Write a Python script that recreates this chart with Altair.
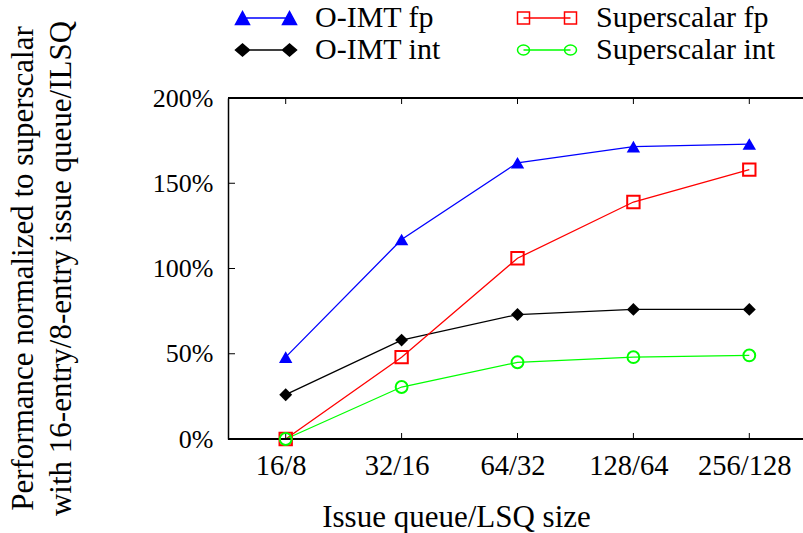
import altair as alt
import pandas as pd

# ---- data ----
sizes = ["16/8", "32/16", "64/32", "128/64", "256/128"]
oimt_fp = [48, 117, 162, 171.5, 173]
oimt_int = [26, 58, 73, 76, 76]
ss_fp = [0, 48, 106, 139, 158]
ss_int = [0, 30.5, 45, 48, 49]
series_names = ["O-IMT fp", "O-IMT int", "Superscalar fp", "Superscalar int"]
y_ticks = [0, 50, 100, 150, 200]

# ---- styles (same order as series_names) ----
colors = ["#0000ff", "#000000", "#ff0000", "#00ff00"]
fills = ["#0000ff", "#000000", "transparent", "transparent"]
shapes = ["triangle-up", "diamond", "square", "circle"]
sizes_pt = [180, 140, 100, 130]
FONT = "Liberation Serif"
W, H = 575, 341

rows = []
for name, vals in zip(series_names, [oimt_fp, oimt_int, ss_fp, ss_int]):
    for s, v in zip(sizes, vals):
        rows.append({"size": s, "series": name, "value": v})
df = pd.DataFrame(rows)

# legend symbol paths: a sample line with a marker at each end
SYM = 625
R = SYM ** 0.5 / 2


def u(px):
    return round(px / R, 3)


L = u(23.5)


def line_path():
    return f"M{-L},0L{L},0"


def tri(cx):
    hw, hh = u(7), u(6.5)
    return f"M{cx},{-hh}L{round(cx - hw, 3)},{hh}L{round(cx + hw, 3)},{hh}Z"


def dia(cx):
    hw, hh = u(7), u(6)
    return f"M{round(cx - hw, 3)},0L{cx},{-hh}L{round(cx + hw, 3)},0L{cx},{hh}Z"


def sq(cx):
    h = u(6)
    return f"M{round(cx - h, 3)},{-h}L{round(cx + h, 3)},{-h}L{round(cx + h, 3)},{h}L{round(cx - h, 3)},{h}Z"


def circ(cx):
    rx, ry = u(6), u(5)
    return (f"M{round(cx - rx, 3)},0A{rx},{ry},0,1,0,{round(cx + rx, 3)},0"
            f"A{rx},{ry},0,1,0,{round(cx - rx, 3)},0Z")


legend_paths = [
    line_path() + tri(-L) + tri(L),
    line_path() + dia(-L) + dia(L),
    line_path() + sq(-L) + sq(L),
    line_path() + circ(-L) + circ(L),
]

x_enc = alt.X(
    "size:N", sort=sizes,
    scale=alt.Scale(type="point", range=[57.7, 521.3], padding=0),
    axis=alt.Axis(title="Issue queue/LSQ size", labelAngle=0, labelFont=FONT,
                  labelFontSize=28.5, labelColor="black", labelPadding=12, labelOffset=-5,
                  ticks=False, domain=False, grid=False,
                  titleFont=FONT, titleFontSize=31, titleFontWeight="normal",
                  titleColor="black", titleX=228, titleY=87, titleAlign="center",
                  titleBaseline="alphabetic"),
)
y_enc = alt.Y(
    "value:Q",
    scale=alt.Scale(domain=[0, 200], nice=False),
    axis=alt.Axis(values=y_ticks, labelExpr="datum.value + '%'", labelFont=FONT,
                  labelFontSize=26, labelColor="black", labelPadding=15,
                  ticks=False, domain=True, domainColor="black", domainWidth=1.5,
                  grid=False,
                  title=["Performance normalized to superscalar",
                         "with 16-entry/8-entry issue queue/ILSQ"],
                  titleFont=FONT, titleFontSize=31, titleFontWeight="normal",
                  titleColor="black", titleAngle=270, titleX=-196, titleY=170,
                  titleAlign="center", titleBaseline="alphabetic", titleLineHeight=38),
)

color = alt.Color("series:N", scale=alt.Scale(domain=series_names, range=colors), legend=None)
shape = alt.Shape("series:N", scale=alt.Scale(domain=series_names, range=shapes), legend=None)
size = alt.Size("series:N", scale=alt.Scale(domain=series_names, range=sizes_pt), legend=None)

base = alt.Chart(df).encode(x=x_enc, y=y_enc)

lines = base.mark_line(strokeWidth=1.3).encode(color=color)

pts_filled = base.transform_filter(
    alt.FieldOneOfPredicate(field="series", oneOf=["O-IMT fp", "O-IMT int"])
).mark_point(filled=True, opacity=1).encode(color=color, shape=shape, size=size)

pts_open = base.transform_filter(
    alt.FieldOneOfPredicate(field="series", oneOf=["Superscalar fp", "Superscalar int"])
).mark_point(filled=False, opacity=1, strokeWidth=2).encode(color=color, shape=shape, size=size)

# frame and inward tick marks
tick_df = pd.DataFrame({"value": y_ticks})
size_df = pd.DataFrame({"size": sizes})
y_ticks_left = alt.Chart(tick_df).mark_rule(color="black", strokeWidth=1).encode(
    y=y_enc, x=alt.value(0), x2=alt.value(7))
x_ticks_bottom = alt.Chart(size_df).mark_rule(color="black", strokeWidth=1).encode(
    x=x_enc, y=alt.value(H), y2=alt.value(H - 6))
x_ticks_top = alt.Chart(size_df).mark_rule(color="black", strokeWidth=1).encode(
    x=x_enc, y=alt.value(0), y2=alt.value(6))
top_border = alt.Chart(size_df).mark_rule(color="black", strokeWidth=1.5).encode(
    x=alt.value(0), x2=alt.value(W), y=alt.value(0))
bottom_border = alt.Chart(size_df).mark_rule(color="black", strokeWidth=1.5).encode(
    x=alt.value(0), x2=alt.value(W), y=alt.value(H))

leg = alt.Legend(orient="none", legendX=23, legendY=-95, columns=2, columnPadding=73,
                 rowPadding=2, title=None, labelFont=FONT, labelFontSize=30,
                 labelColor="black", labelLimit=400, symbolSize=SYM, symbolStrokeWidth=1.5,
                 labelOffset=34, padding=0, values=series_names)
legend_layer = alt.Chart(df).transform_filter("false").mark_point(
    filled=True, opacity=1, size=SYM).encode(
    shape=alt.Shape("series:N", scale=alt.Scale(domain=series_names, range=legend_paths), legend=leg),
    fill=alt.Fill("series:N", scale=alt.Scale(domain=series_names, range=fills), legend=leg),
    stroke=alt.Stroke("series:N", scale=alt.Scale(domain=series_names, range=colors), legend=leg),
)

chart = alt.layer(
    lines, y_ticks_left, x_ticks_bottom, x_ticks_top, top_border, bottom_border,
    pts_filled, pts_open, legend_layer
).resolve_scale(shape="independent", fill="independent", stroke="independent").properties(
    width=W, height=H,
    autosize=alt.AutoSizeParams(type="none"),
    padding={"left": 228, "top": 98, "right": 0, "bottom": 94},
    background="white",
).configure_view(stroke=None)

chart.save("out.html", embed_options={"renderer": "svg", "actions": False})
